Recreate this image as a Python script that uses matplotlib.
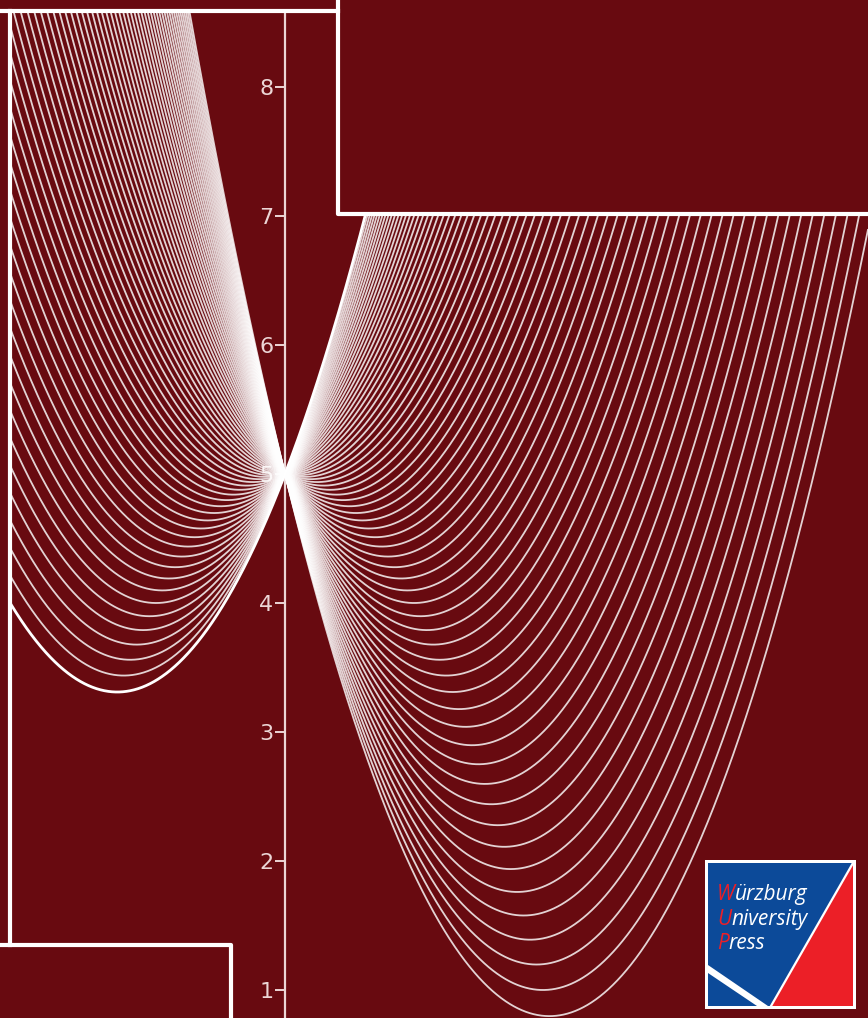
import numpy as np
import matplotlib
matplotlib.use("Agg")
import matplotlib.pyplot as plt
from matplotlib.patches import Rectangle, Polygon

# parabolas y = (x - h)^2 - h^2 + 5, all through (0, 5); h is the vertex position
vertex_left = [-1.30, -1.25, -1.20, -1.15, -1.10, -1.05, -1.00, -0.95, -0.90,
               -0.85, -0.80, -0.75, -0.70, -0.65, -0.60, -0.55, -0.50, -0.45,
               -0.40, -0.35, -0.30, -0.25, -0.20, -0.15, -0.10, -0.05]
vertex_right = [0.00, 0.05, 0.10, 0.15, 0.20, 0.25, 0.30, 0.35, 0.40, 0.45,
                0.50, 0.55, 0.60, 0.65, 0.70, 0.75, 0.80, 0.85, 0.90, 0.95,
                1.00, 1.05, 1.10, 1.15, 1.20, 1.25, 1.30, 1.35, 1.40, 1.45,
                1.50, 1.55, 1.60, 1.65, 1.70, 1.75, 1.80, 1.85, 1.90, 1.95,
                2.00, 2.05]
y_cross = 5.0
y_ticks = [1, 2, 3, 4, 5, 6, 7, 8]

BG = "#680a10"
AXC = "#ecd6d6"
W, H = 868, 1018

fig = plt.figure(figsize=(W / 100, H / 100), dpi=100)
fig.patch.set_facecolor(BG)
ax = fig.add_axes([0, 0, 1, 1])
ax.set_facecolor(BG)

x = np.linspace(-2.4, 4.7, 3000)
for h in vertex_left + vertex_right:
    y = (x - h) ** 2 - h ** 2 + y_cross
    lw, a = (2.0, 1.0) if h == vertex_left[0] else (1.3, 0.82)
    ax.plot(x, y, color="white", lw=lw, alpha=a, zorder=3, solid_capstyle="butt")

ax.set_xlim(-285 / 129, 583 / 129)
ax.set_ylim(5 - 544 / 129, 5 + 474 / 129)

for s in ["top", "right", "bottom"]:
    ax.spines[s].set_visible(False)
ax.spines["left"].set_position(("data", 0))
ax.spines["left"].set_color(AXC)
ax.spines["left"].set_linewidth(1.6)
ax.set_xticks([])
ax.set_yticks(y_ticks)
ax.tick_params(axis="y", direction="out", length=7, width=1.4, pad=1.5,
               colors=AXC, labelsize=16)


def px(xp, yp):
    return xp / W, 1 - yp / H


def block(x0, y0, x1, y1):
    (a0, b0), (a1, b1) = px(x0, y1), px(x1, y0)
    ax.add_patch(Rectangle((a0, b0), a1 - a0, b1 - b0, transform=ax.transAxes,
                           facecolor=BG, edgecolor="none", zorder=5, clip_on=False))


def wline(pts, lw=3.0, color="white", z=6):
    xs, ys = zip(*[px(*p) for p in pts])
    ax.plot(xs, ys, color=color, lw=lw, transform=ax.transAxes, zorder=z,
            clip_on=False, solid_capstyle="projecting")


# plain panels framing the plot
block(0, 0, W, 11)
block(0, 0, 10, 945)
block(0, 945, 231, H)
block(338, 0, W, 214)

wline([(0, 11), (338, 11)])
wline([(10, 11), (10, 945)])
wline([(0, 945), (231, 945), (231, H + 5)])
wline([(338, -5), (338, 214), (W + 5, 214)])

# publisher logo
def poly(pts, color, z):
    ax.add_patch(Polygon([px(*p) for p in pts], closed=True, transform=ax.transAxes,
                         facecolor=color, edgecolor="none", zorder=z, clip_on=False))


poly([(705, 860), (856, 860), (856, 1009), (705, 1009)], "white", 7)
poly([(708, 863), (853, 863), (853, 1006), (708, 1006)], "#0c4a99", 8)
poly([(853, 863), (853, 1006), (771, 1006)], "#ec1f27", 9)
wline([(853, 863), (771, 1006)], lw=1.6, z=10)
poly([(708, 965), (708, 973), (757, 1006), (768, 1006)], "white", 10)

words = ["Würzburg", "University", "Press"]
baselines = [900, 925, 949]
font = dict(fontsize=15, fontstyle="italic", family="Open Sans",
            va="baseline", ha="left", zorder=11)
fig.canvas.draw()
renderer = fig.canvas.get_renderer()
for w, b in zip(words, baselines):
    tx, ty = px(717, b)
    first = ax.text(tx, ty, w[0], transform=ax.transAxes, color="#ec1f27", **font)
    x1 = first.get_window_extent(renderer).x1
    rx = ax.transAxes.inverted().transform((x1, 0))[0]
    ax.text(rx, ty, w[1:], transform=ax.transAxes, color="white", **font)

fig.savefig("out.png", dpi=100, facecolor=BG)
